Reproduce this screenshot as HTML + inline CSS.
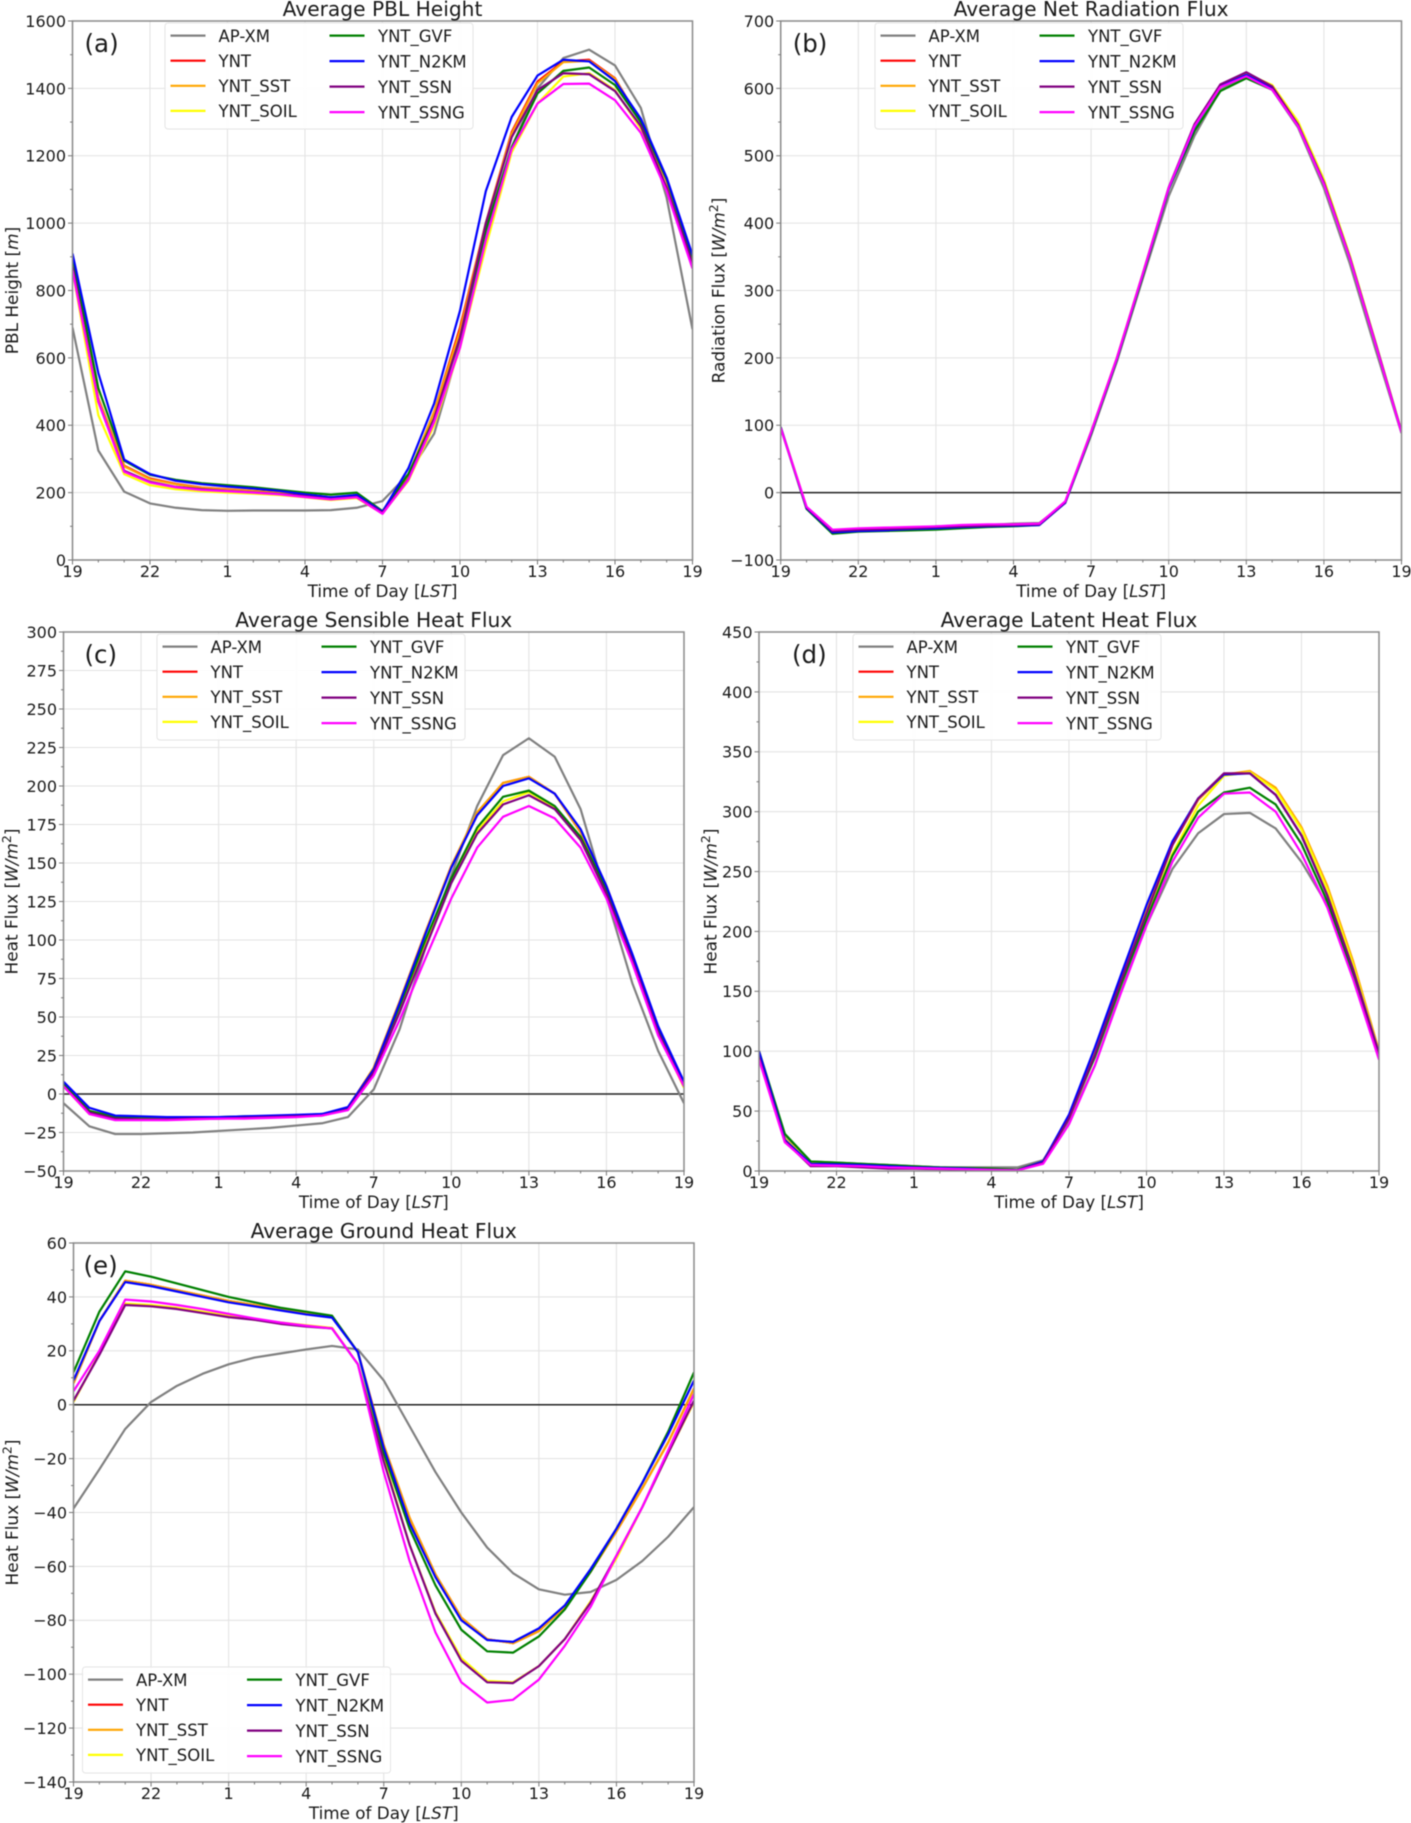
<!DOCTYPE html>
<html lang="en">
<head>
<meta charset="utf-8">
<title>Average diurnal cycles</title>
<style>
html,body{margin:0;padding:0;background:#fff;}
#figure{display:block;width:1411px;height:1823px;filter:blur(0.45px);font-family:"DejaVu Sans","Liberation Sans",sans-serif;fill:#1a1a1a;}
</style>
</head>
<body>
<svg id="figure" xmlns="http://www.w3.org/2000/svg" width="1411" height="1823" viewBox="0 0 1411 1823"></svg>
<script>
const hourLabels = [19,20,21,22,23,0,1,2,3,4,5,6,7,8,9,10,11,12,13,14,15,16,17,18,19];
const seriesNames = ["AP-XM","YNT","YNT_SST","YNT_SOIL","YNT_GVF","YNT_N2KM","YNT_SSN","YNT_SSNG"];

const pblApxm = [690,325,203,168,155,148,146,147,147,147,148,155,175,255,375,640,960,1225,1400,1490,1515,1468,1342,1075,685];
const pblYnt  = [880,480,280,242,226,215,210,205,200,193,186,190,143,250,440,690,1000,1270,1420,1480,1485,1430,1300,1125,890];
const pblSst  = [880,478,278,240,225,214,209,204,199,192,185,189,143,250,440,680,1000,1265,1415,1478,1482,1428,1300,1125,890];
const pblSoil = [860,430,255,222,210,204,200,197,193,186,178,184,138,235,400,630,930,1210,1355,1435,1445,1395,1280,1095,870];
const pblGvf  = [900,510,295,253,238,228,222,216,208,200,194,200,145,255,420,660,980,1225,1385,1452,1462,1410,1300,1130,895];
const pblN2km = [910,555,298,255,235,225,218,212,205,195,186,193,143,272,465,740,1095,1315,1438,1485,1480,1422,1310,1135,905];
const pblSsn  = [870,470,265,232,217,210,205,201,196,190,181,187,140,240,420,660,1000,1255,1395,1445,1442,1392,1288,1105,880];
const pblSsng = [860,470,262,230,216,208,204,200,195,187,180,186,137,238,410,630,950,1220,1355,1413,1414,1365,1268,1095,865];

const netApxm = [96,-24,-58,-55,-53,-52,-50,-49,-48,-46,-45,-15,85,195,318,440,530,598,618,598,542,452,340,212,88];
const netYnt  = [97,-22,-57,-55,-54,-53,-52,-50,-49,-48,-47,-14,90,200,325,452,545,605,622,603,548,462,350,222,90];
const netSst  = [97,-22,-57,-55,-54,-53,-52,-50,-49,-48,-47,-14,90,200,325,452,545,605,622,604,549,463,351,222,90];
const netSoil = [97,-22,-57,-55,-54,-53,-52,-50,-49,-48,-47,-14,90,200,325,452,545,605,622,605,551,465,352,223,91];
const netGvf  = [97,-24,-61,-58,-57,-56,-55,-53,-51,-50,-48,-15,88,198,322,450,537,596,615,598,545,460,349,221,90];
const netN2km = [97,-23,-59,-57,-56,-54,-53,-51,-50,-49,-48,-15,89,199,324,451,543,603,620,600,546,460,349,221,90];
const netSsn  = [96,-22,-57,-55,-54,-53,-51,-50,-49,-48,-47,-14,90,200,325,453,547,606,624,603,546,460,349,221,90];
const netSsng = [96,-21,-55,-53,-52,-51,-50,-48,-47,-47,-46,-13,90,200,325,452,544,602,618,598,544,458,348,220,89];

const shApxm = [-6,-21,-26,-26,-25.5,-25,-24,-23,-22,-20.5,-19,-15,3,42,95,142,187,220,231,219,185,128,72,28,-6];
const shYnt  = [6,-11,-15,-15.5,-15.5,-15.5,-15,-15,-14.5,-14,-13.5,-9,17,60,105,148,182,202,206,195,170,135,90,42,6];
const shSst  = [6,-11,-15,-15.5,-15.5,-15.5,-15,-15,-14.5,-14,-13.5,-9,17,60,105,148,183,202,206,195,170,135,90,42,6];
const shSoil = [5,-13,-16,-16,-16,-16,-15.5,-15,-15,-14.5,-14,-10,15,55,97,138,171,190,196,186,165,130,88,40,4];
const shGvf  = [7,-11,-15,-15,-15,-15,-15,-14.5,-14.5,-14,-13,-9,16,57,100,140,173,193,197,187,167,133,90,43,7];
const shN2km = [8,-9,-14,-14.5,-15,-15,-15,-14.5,-14,-13.5,-13,-8.5,16,59,104,147,181,200,205,195,172,135,91,44,8];
const shSsn  = [5,-12,-16,-16.5,-16.5,-16,-16,-15.5,-15,-14.5,-14,-10,14,53,95,137,169,188,194,185,165,130,87,40,5];
const shSsng = [5,-13,-17,-17,-17,-16.5,-16,-16,-15.5,-15,-14,-10.5,12,48,88,127,160,180,187,179,160,127,85,38,5];

const lhApxm = [100,30,8,7,6,5,4,3,3,3,3,9,42,88,150,205,252,282,298,299,286,258,222,165,95];
const lhYnt  = [100,27,7,6,5,4,3,2,2,1,0.5,8,46,100,160,218,272,310,331,333,319,286,237,174,100];
const lhSst  = [100,27,7,6,5,4,3,2,2,1,0.5,8,46,100,160,218,272,310,331,334,320,287,238,175,100];
const lhSoil = [100,27,6,5,4,3,2.5,2,1.5,1,0.5,7,44,95,155,213,265,305,330,333,318,285,235,172,98];
const lhGvf  = [100,31,8,7,6,5,4,3,2.5,2,1,8,45,95,155,210,263,300,316,320,306,273,225,165,98];
const lhN2km = [100,26,6,5.5,5,4,3,2.5,2,1,0.5,8,47,103,163,222,275,311,331,332,314,280,230,168,98];
const lhSsn  = [95,25,4,4,3,2,2,1.5,1,0.5,0.5,7,44,97,158,215,272,311,332,332,314,280,230,168,97];
const lhSsng = [93,24,5,4.5,4,3,2.5,2,1.5,1,0.5,6,39,88,148,205,258,295,315,316,300,265,220,160,93];

const ghApxm = [-38.5,-24,-9,1,7,11.5,15,17.5,19,20.5,21.8,20.5,9,-8,-25,-40,-53,-62.5,-68.5,-70.5,-69.5,-65,-58,-49,-38];
const ghYnt  = [8,31,46,44.5,42.5,40.5,38.5,37,35.5,34,32.8,19.5,-15,-42,-63,-79,-87,-88.5,-84,-75,-62,-47,-31,-14,6];
const ghSst  = [8,31,46,44.5,42.5,40.5,38.5,37,35.5,34,32.8,19.5,-15,-42,-63,-79,-87,-88.5,-84,-75,-62,-47,-31,-14,6];
const ghSoil = [1,19,37.5,37,36,34.5,33,31.5,30.5,29.5,28.5,15,-20,-52,-77,-94,-102.5,-103,-97,-87,-73,-57,-38,-18,1];
const ghGvf  = [12,34.5,49.5,47.5,45,42.5,40,38,36,34.5,33,19.5,-18,-46,-67,-83.5,-91.5,-92,-86,-76,-62,-46,-29,-10,12];
const ghN2km = [9,31,45.5,44,42,40,38,36.5,35,33.5,32.3,19.5,-16,-44,-64,-80,-87.3,-88,-83,-74.5,-61,-46,-29,-11,9];
const ghSsn  = [1.5,18.5,37,36.5,35.5,34,32.5,31.5,30,29,28.3,15,-21,-52,-77.5,-95,-103,-103.3,-97,-87,-73.5,-56,-38,-18,1.5];
const ghSsng = [5,20,39,38.3,37,35.5,33.7,32,30.5,29.3,28.3,15,-25,-58,-84.5,-103,-110.5,-109.5,-102,-89.5,-75,-56,-38,-17,4];

const pblTicks = [0,200,400,600,800,1000,1200,1400,1600];
const netTicks = [-100,0,100,200,300,400,500,600,700];
const shTicks = [-50,-25,0,25,50,75,100,125,150,175,200,225,250,275,300];
const lhTicks = [0,50,100,150,200,250,300,350,400,450];
const ghTicks = [-140,-120,-100,-80,-60,-40,-20,0,20,40,60];

const seriesColors = ["#808080","#ff0000","#ffa500","#ffff00","#008000","#0000ff","#800080","#ff00ff"];
const NS = "http://www.w3.org/2000/svg";
const root = document.getElementById("figure");

function make(tag, parent, attrs, text) {
  const node = document.createElementNS(NS, tag);
  for (const k in attrs) node.setAttribute(k, attrs[k]);
  if (text !== undefined) node.textContent = text;
  parent.appendChild(node);
  return node;
}
function label(node, name) {
  
  
  return node;
}
function minus(v) { return String(v).replace("-", "\u2212"); }

function drawPanel(p) {
  const g = label(make("g", root, {}), "panel-" + p.key);
  const W = p.right - p.left, H = p.bottom - p.top;
  const xAt = i => p.left + (i / (hourLabels.length - 1)) * W;
  const yAt = v => p.bottom - (v - p.ticks[0]) / (p.ticks[p.ticks.length - 1] - p.ticks[0]) * H;

  const gridG = label(make("g", g, {stroke:"#e3e3e3","stroke-width":1.1}), "grid");
  hourLabels.forEach((h, i) => {
    if (i % 3 === 0) make("line", gridG, {x1:xAt(i),x2:xAt(i),y1:p.top,y2:p.bottom});
  });
  p.ticks.forEach(t => make("line", gridG, {x1:p.left,x2:p.right,y1:yAt(t),y2:yAt(t)}));

  if (p.zero) {
    const z = make("line", g, {x1:p.left,x2:p.right,y1:yAt(0),y2:yAt(0),stroke:"#222","stroke-width":1.5});
    label(z, "zero-line");
  }

  const clipId = "clip-" + p.key;
  const clip = make("clipPath", g, {id:clipId});
  make("rect", clip, {x:p.left,y:p.top,width:W,height:H});
  const lines = label(make("g", g, {"clip-path":"url(#"+clipId+")",fill:"none","stroke-width":2.2,"stroke-linejoin":"round"}), "series-lines");
  p.series.forEach((vals, s) => {
    const d = vals.map((v, i) => (i ? "L" : "M") + xAt(i).toFixed(2) + " " + yAt(v).toFixed(2)).join("");
    const path = make("path", lines, {d:d,stroke:seriesColors[s]});
    
    
  });

  const frame = make("rect", g, {x:p.left,y:p.top,width:W,height:H,fill:"none",stroke:"#8a8a8a","stroke-width":1.5});
  label(frame, "axes-frame");

  const tickG = label(make("g", g, {stroke:"#777","stroke-width":1}), "ticks");
  hourLabels.forEach((h, i) => {
    make("line", tickG, {x1:xAt(i),x2:xAt(i),y1:p.bottom,y2:p.bottom+(i%3===0?4.5:2.5)});
  });
  p.ticks.forEach((t, i) => {
    make("line", tickG, {x1:p.left,x2:p.left-4.5,y1:yAt(t),y2:yAt(t)});
    if (i < p.ticks.length - 1) {
      const mid = (t + p.ticks[i+1]) / 2;
      make("line", tickG, {x1:p.left,x2:p.left-2.5,y1:yAt(mid),y2:yAt(mid)});
    }
  });

  const xLabels = label(make("g", g, {"font-size":16,"text-anchor":"middle"}), "x-tick-labels");
  hourLabels.forEach((h, i) => {
    if (i % 3 === 0) make("text", xLabels, {x:xAt(i),y:p.bottom+17}, String(h));
  });
  const yLabels = label(make("g", g, {"font-size":16,"text-anchor":"end"}), "y-tick-labels");
  p.ticks.forEach(t => make("text", yLabels, {x:p.left-6.5,y:yAt(t)+5.9}, minus(t)));

  const title = make("text", g, {x:(p.left+p.right)/2,y:p.top-5,"font-size":20.2,"text-anchor":"middle"}, p.title);
  label(title, "chart-title");

  const xt = make("text", g, {x:(p.left+p.right)/2,y:p.bottom+37,"font-size":16.8,"text-anchor":"middle"});
  label(xt, "x-axis-title");
  make("tspan", xt, {}, "Time of Day [");
  make("tspan", xt, {"font-style":"italic"}, "LST");
  make("tspan", xt, {}, "]");

  const cy = (p.top + p.bottom) / 2;
  const yt = make("text", g, {transform:"translate("+(p.ylx+5.5)+" "+cy+") rotate(-90)","font-size":16.9,"text-anchor":"middle"});
  label(yt, "y-axis-title");
  make("tspan", yt, {}, p.yName + " [");
  make("tspan", yt, {"font-style":"italic"}, p.yUnit);
  if (p.sup) {
    make("tspan", yt, {"font-size":12.5,dy:-6.5,"font-style":"normal"}, "2");
    make("tspan", yt, {dy:6.5}, "]");
  } else {
    make("tspan", yt, {}, "]");
  }

  const tag = make("text", g, {x:p.left+p.tagDx,y:p.top+31,"font-size":24.5}, p.tag);
  label(tag, "panel-tag");

  const lg = label(make("g", g, {}), "legend");
  const bx = p.legendX, by = p.legendY;
  const box = make("rect", lg, {x:bx,y:by,width:308,height:106,rx:3,fill:"#fff","fill-opacity":0.9,stroke:"#e4e4e4","stroke-width":1});
  label(box, "legend-box");
  seriesNames.forEach((name, s) => {
    const col = s < 4 ? 0 : 1, row = s % 4;
    const hx = bx + (col ? 164.5 : 5.5), tx = bx + (col ? 213 : 53.5);
    const ly = by + 12.6 + row * 25.1 + col * row * 0.4;
    const entry = make("g", lg, {});
    
    
    make("line", entry, {x1:hx,x2:hx+35,y1:ly,y2:ly,stroke:seriesColors[s],"stroke-width":2.2});
    make("text", entry, {x:tx,y:ly+6.2,"font-size":16.5}, name);
  });
}

const panels = [
  {key:"a",tag:"(a)",title:"Average PBL Height",yName:"PBL Height",yUnit:"m",sup:false,ticks:pblTicks,zero:false,
   series:[pblApxm,pblYnt,pblSst,pblSoil,pblGvf,pblN2km,pblSsn,pblSsng]},
  {key:"b",tag:"(b)",title:"Average Net Radiation Flux",yName:"Radiation Flux",yUnit:"W/m",sup:true,ticks:netTicks,zero:true,
   series:[netApxm,netYnt,netSst,netSoil,netGvf,netN2km,netSsn,netSsng]},
  {key:"c",tag:"(c)",title:"Average Sensible Heat Flux",yName:"Heat Flux",yUnit:"W/m",sup:true,ticks:shTicks,zero:true,
   series:[shApxm,shYnt,shSst,shSoil,shGvf,shN2km,shSsn,shSsng]},
  {key:"d",tag:"(d)",title:"Average Latent Heat Flux",yName:"Heat Flux",yUnit:"W/m",sup:true,ticks:lhTicks,zero:false,
   series:[lhApxm,lhYnt,lhSst,lhSoil,lhGvf,lhN2km,lhSsn,lhSsng]},
  {key:"e",tag:"(e)",title:"Average Ground Heat Flux",yName:"Heat Flux",yUnit:"W/m",sup:true,ticks:ghTicks,zero:true,
   series:[ghApxm,ghYnt,ghSst,ghSoil,ghGvf,ghN2km,ghSsn,ghSsng]}
];
const frames = {
  a:{left:72.5,right:692.5,top:21,bottom:560,ylx:12.5,tagDx:12,legendX:165,legendY:23},
  b:{left:780.7,right:1401.5,top:21,bottom:560,ylx:719,tagDx:12,legendX:875,legendY:23},
  c:{left:63.5,right:684,top:632,bottom:1171,ylx:12,tagDx:21,legendX:157,legendY:634},
  d:{left:759,right:1379,top:632,bottom:1171,ylx:711,tagDx:33,legendX:853,legendY:634},
  e:{left:73.5,right:694,top:1243,bottom:1782,ylx:12.4,tagDx:10,legendX:82.5,legendY:1667}
};
panels.forEach(p => drawPanel(Object.assign({}, p, frames[p.key])));
</script>
</body>
</html>
